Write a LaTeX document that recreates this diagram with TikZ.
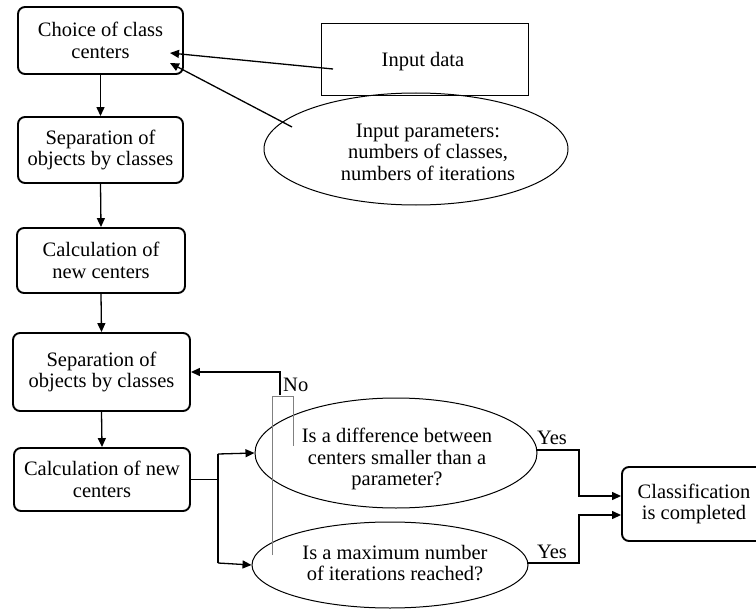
\documentclass[tikz,border=0pt]{standalone}
\usepackage{fontspec}
\setmainfont{Liberation Serif}
\usetikzlibrary{arrows.meta,shapes.geometric}

\tikzset{
  stepbox/.style={draw, line width=1.9pt, rounded corners=7pt, align=center,
    inner sep=0pt},
  plainbox/.style={draw, line width=1pt, align=center, inner sep=0pt},
  oval/.style={draw, ellipse, line width=1pt, inner sep=0pt},
  label/.style={align=center, inner sep=0pt},
  flow/.style={line width=1.3pt, -{Triangle[length=9pt,width=8pt]}},
  line/.style={line width=1.2pt},
  guide/.style={line width=0.8pt, gray}
}

\begin{document}
\begin{tikzpicture}[x=1pt, y=-1pt, font=\fontsize{20.5}{21.5}\selectfont]
\clip (0,0) rectangle (756,610);

% left column of processing steps
\node[stepbox, minimum width=165pt, minimum height=67pt] (b1) at (100.5,40.5) {Choice of class\\centers};
\node[stepbox, minimum width=165pt, minimum height=66pt] (b2) at (100.5,150) {Separation of\\objects by classes};
\node[stepbox, minimum width=168pt, minimum height=65pt] (b3) at (101,260.5) {Calculation of\\new centers};
\node[stepbox, minimum width=177pt, minimum height=78pt] (b4) at (101.5,372) {Separation of\\objects by classes};
\node[stepbox, minimum width=176pt, minimum height=63pt] (b5) at (102,479.5) {Calculation of new\\centers};

% inputs
\node[plainbox, minimum width=207pt, minimum height=72pt] (in) at (424.5,60) {};
\node[label] (intext) at (423,62) {Input data};
\node[oval, minimum width=304pt, minimum height=112pt] (par) at (416,149) {};
\node[label] (partext) at (428,152) {Input parameters:\\numbers of classes,\\numbers of iterations};

% stopping tests
\node[oval, minimum width=282pt, minimum height=110pt] (q1) at (396,453) {};
\node[label] (q1text) at (397,459) {Is a difference between\\centers smaller than a\\parameter?};
\node[oval, minimum width=276pt, minimum height=86pt] (q2) at (390,565) {};
\node[label] (q2text) at (395,563) {Is a maximum number\\of iterations reached?};

% result
\node[stepbox, minimum width=144pt, minimum height=74pt] (done) at (694,504) {};
\node[label] (donetext) at (694,504) {Classification\\is completed};

% helper points
\coordinate (inA) at (333,69);
\coordinate (parA) at (292,127);
\coordinate (tipA) at (170,53);
\coordinate (tipB) at (170,63);
\coordinate (split) at (218,479.5);
\coordinate (splitT) at (218,454);
\coordinate (splitB) at (218,563);
\coordinate (y1) at (579,450);
\coordinate (y2) at (579,563);
\coordinate (noturn) at (280,372);
\coordinate (noend) at (280,395);

% main sequence
\draw[flow] (b1.south) -- (b2.north);
\draw[flow] (b2.south) -- (b3.north);
\draw[flow] (b3.south) -- (b4.north);
\draw[flow] (b4.south) -- (b5.north);

% inputs feed the first step
\draw[flow] (inA) -- (tipA);
\draw[flow] (parA) -- (tipB);

% branching to both tests
\draw[line] (b5.east) -- (split);
\draw[line] (splitT) -- (splitB);
\draw[flow] (splitT) -- (q1.west);
\draw[flow] (splitB) -- (q2.west);

% positive outcomes
\draw[flow] (537,450) -- (y1) |- (done.west |- 0,496);
\draw[flow] (527,563) -- (y2) |- (done.west |- 0,515);
\node[label, anchor=base] (yes1) at (552,444) {Yes};
\node[label, anchor=base] (yes2) at (552,558) {Yes};

% negative outcome loops back
\draw[flow] (noend) -- (noturn) -- (b4.east);
\node[label, anchor=base west] (no) at (283,391) {No};
\draw[guide] (272,555) -- (272,396) -- (293,396) -- (293,446);
\end{tikzpicture}
\end{document}
